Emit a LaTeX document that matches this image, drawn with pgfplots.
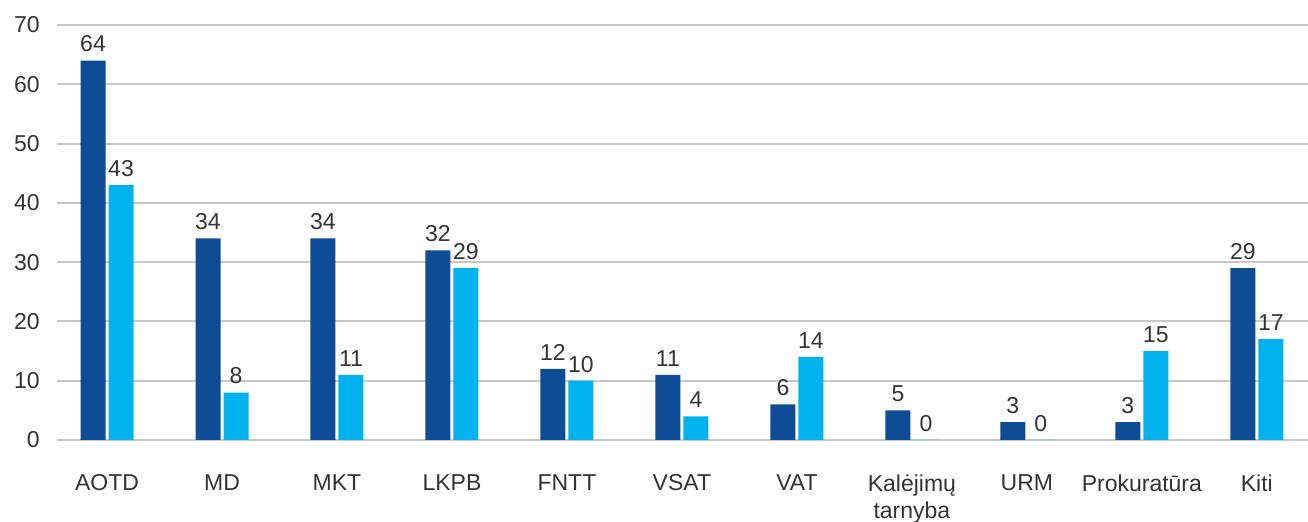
\documentclass[border=0pt]{standalone}
\usepackage{pgfplots}
\pgfplotsset{compat=1.18}
\usepackage{fontspec}
\setmainfont{Liberation Sans}
\definecolor{cDark}{HTML}{0F4C96}
\definecolor{cLight}{HTML}{00B2EE}
\definecolor{cGrid}{HTML}{C8C8C8}
\definecolor{cText}{HTML}{333333}

\begin{document}
\begin{tikzpicture}
\useasboundingbox (-28.5pt,-41pt) rectangle (625.5pt,220pt);
\begin{axis}[
    at={(0,0)}, anchor=south west,
    scale only axis,
    width=625.5pt, height=207.5pt,
    ymin=0, ymax=70, ytick={0,10,...,70},
    xmin=-0.435, xmax=10.445,
    xtick={0,...,10},
    xticklabels={AOTD,MD,MKT,LKPB,FNTT,VSAT,VAT,{Kalėjimų\\tarnyba},URM,Prokuratūra,Kiti},
    /pgf/number format/assume math mode=true,
    tick label style={font=\fontsize{11.5}{13.5}\selectfont, text=cText, inner sep=0pt},
    x tick label style={align=center, yshift=-17pt},
    y tick label style={xshift=-8.5pt},
    axis line style={draw=none},
    tick style={draw=none},
    major tick length=0pt,
    ymajorgrids,
    grid style={cGrid, line width=1pt},
    ybar,
    bar width=12.5pt,
    nodes near coords,
    every node near coord/.append style={font=\fontsize{11.5}{13}\selectfont, text=cText, inner sep=0pt, yshift=4pt},
]
\addplot[fill=cDark, draw=none, bar shift=-7pt] coordinates {
    (0,64) (1,34) (2,34) (3,32) (4,12) (5,11) (6,6) (7,5) (8,3) (9,3) (10,29)};
\addplot[fill=cLight, draw=none, bar shift=7pt] coordinates {
    (0,43) (1,8) (2,11) (3,29) (4,10) (5,4) (6,14) (7,0) (8,0) (9,15) (10,17)};
\end{axis}
\end{tikzpicture}
\end{document}
